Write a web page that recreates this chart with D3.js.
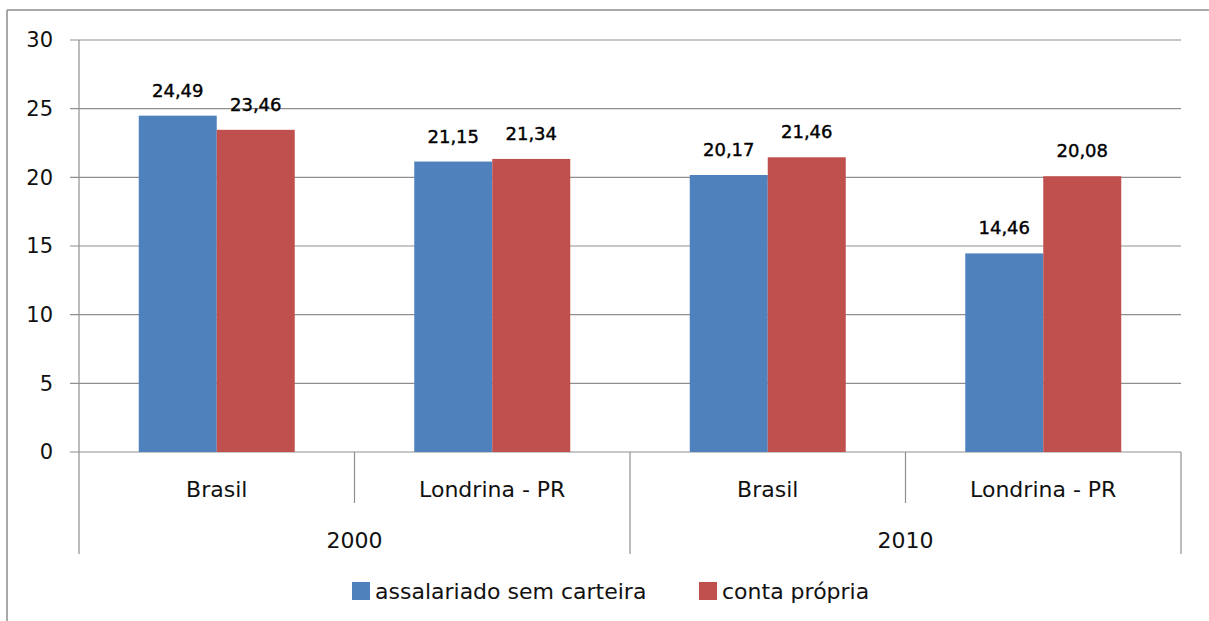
<!DOCTYPE html>
<html>
<head>
<meta charset="utf-8">
<script src="https://cdn.jsdelivr.net/npm/d3@7"></script>
<style>
	body { margin: 0; background: #fff; }
	svg { font-family: "DejaVu Sans", "Noto Sans", sans-serif; }
</style>
</head>
<body>
<div id="chart"></div>
<script>
var years = ["2000", "2010"];
var places = ["Brasil", "Londrina - PR", "Brasil", "Londrina - PR"];
var placeYear = ["2000", "2000", "2010", "2010"];
var series = ["assalariado sem carteira", "conta própria"];
var assalariado = [24.49, 21.15, 20.17, 14.46];
var contaPropria = [23.46, 21.34, 21.46, 20.08];
var yTicks = [0, 5, 10, 15, 20, 25, 30];
var colors = ["#4f81bd", "#c0504d"];

(function() {
	var width = 1209,
		height = 621;

	var left = 79, right = 1181, top = 40, bottom = 452;

	var svg = d3.select("#chart")
		.append("svg")
		.attr("width", width)
		.attr("height", height);

	// outer frame (only top and left edges visible)
	svg.append("line").attr("x1", 7).attr("x2", width).attr("y1", 10).attr("y2", 10)
		.attr("stroke", "#8c8c8c").attr("stroke-width", 1.5);
	svg.append("line").attr("x1", 7).attr("x2", 7).attr("y1", 10).attr("y2", height)
		.attr("stroke", "#8c8c8c").attr("stroke-width", 1.5);

	var y = d3.scaleLinear().domain([0, 30]).range([bottom, top]);
	var x = d3.scaleBand().domain(d3.range(places.length)).range([left, right]).paddingInner(0).paddingOuter(0);
	var inner = 156 / x.bandwidth();
	var xs = d3.scaleBand().domain(series).range([0, x.bandwidth()])
		.paddingInner(0).paddingOuter((1 - inner) / inner);

	// gridlines
	svg.append("g").selectAll("line")
		.data(yTicks)
		.enter().append("line")
		.attr("x1", left - 9)
		.attr("x2", right)
		.attr("y1", function(d) { return y(d); })
		.attr("y2", function(d) { return y(d); })
		.attr("stroke", "#8f8f8f")
		.attr("stroke-width", 1.2);

	svg.append("g").selectAll("text")
		.data(yTicks)
		.enter().append("text")
		.attr("x", 53)
		.attr("y", function(d) { return y(d); })
		.attr("dy", "0.35em")
		.attr("text-anchor", "end")
		.attr("font-size", 21)
		.attr("fill", "#111")
		.text(function(d) { return d; });

	// y axis line
	svg.append("line").attr("x1", left).attr("x2", left).attr("y1", top).attr("y2", 554)
		.attr("stroke", "#8f8f8f").attr("stroke-width", 1.2);

	var rows = places.map(function(p, i) {
		return { i: i, place: p, values: [assalariado[i], contaPropria[i]] };
	});

	var groups = svg.append("g").selectAll("g")
		.data(rows)
		.enter().append("g")
		.attr("transform", function(d) { return "translate(" + x(d.i) + ",0)"; });

	groups.selectAll("rect")
		.data(function(d) { return d.values.map(function(v, k) { return { s: series[k], v: v, k: k }; }); })
		.enter().append("rect")
		.attr("x", function(d) { return xs(d.s); })
		.attr("width", xs.bandwidth())
		.attr("y", function(d) { return y(d.v); })
		.attr("height", function(d) { return bottom - y(d.v); })
		.attr("fill", function(d) { return colors[d.k]; });

	groups.selectAll("text.val")
		.data(function(d) { return d.values.map(function(v, k) { return { s: series[k], v: v }; }); })
		.enter().append("text")
		.attr("class", "val")
		.attr("x", function(d) { return xs(d.s) + xs.bandwidth() / 2; })
		.attr("y", function(d) { return y(d.v) - 19; })
		.attr("text-anchor", "middle")
		.attr("font-size", 18)
		.attr("fill", "#000")
		.attr("stroke", "#000")
		.attr("stroke-width", 0.4)
		.text(function(d) { return d3.format(".2f")(d.v).replace(".", ","); });

	// category labels
	svg.append("g").selectAll("text")
		.data(rows)
		.enter().append("text")
		.attr("x", function(d) { return x(d.i) + x.bandwidth() / 2; })
		.attr("y", 489)
		.attr("dy", "0.35em")
		.attr("text-anchor", "middle")
		.attr("font-size", 22)
		.attr("fill", "#111")
		.text(function(d) { return d.place; });

	// separators: short between places, long between years
	svg.append("g").selectAll("line")
		.data(d3.range(1, places.length + 1))
		.enter().append("line")
		.attr("x1", function(i) { return i < places.length ? x(i) : right; })
		.attr("x2", function(i) { return i < places.length ? x(i) : right; })
		.attr("y1", bottom)
		.attr("y2", function(i) {
			return (i === places.length || placeYear[i] !== placeYear[i - 1]) ? 554 : 503;
		})
		.attr("stroke", "#8f8f8f")
		.attr("stroke-width", 1.2);

	// year labels
	svg.append("g").selectAll("text")
		.data(years)
		.enter().append("text")
		.attr("x", function(yr) {
			var idx = placeYear.map(function(p, i) { return p === yr ? i : -1; }).filter(function(i) { return i >= 0; });
			return (x(idx[0]) + x(idx[idx.length - 1]) + x.bandwidth()) / 2;
		})
		.attr("y", 540)
		.attr("dy", "0.35em")
		.attr("text-anchor", "middle")
		.attr("font-size", 22)
		.attr("fill", "#111")
		.text(function(d) { return d; });

	// legend
	var legendX = [352, 699];
	var legend = svg.append("g").selectAll("g")
		.data(series)
		.enter().append("g")
		.attr("transform", function(d, i) { return "translate(" + legendX[i] + ",582)"; });

	legend.append("rect")
		.attr("width", 18)
		.attr("height", 18)
		.attr("fill", function(d, i) { return colors[i]; });

	legend.append("text")
		.attr("x", 23)
		.attr("y", 9)
		.attr("dy", "0.35em")
		.attr("font-size", 22)
		.attr("fill", "#111")
		.text(function(d) { return d; });
})();
</script>
</body>
</html>
